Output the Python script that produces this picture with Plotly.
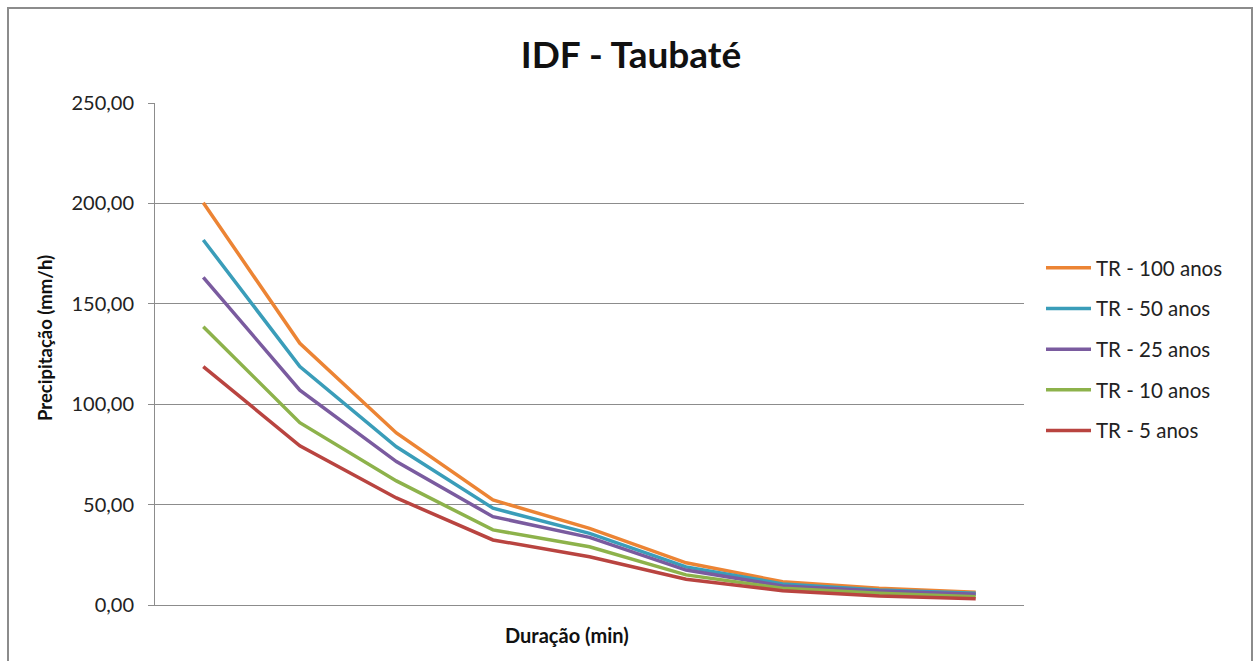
import plotly.graph_objects as go

categories = ["5", "10", "15", "30", "60", "120", "360", "720", "1440"]
tr100 = [200.3, 130.3, 85.7, 52.3, 38.2, 21.0, 11.6, 8.3, 6.3]
tr50 = [181.8, 118.7, 78.8, 48.2, 35.7, 19.0, 10.5, 7.5, 5.8]
tr25 = [163.2, 107.0, 71.4, 44.0, 33.7, 17.4, 9.5, 7.0, 5.3]
tr10 = [138.6, 90.8, 61.8, 37.4, 29.0, 15.0, 8.3, 5.8, 4.1]
tr5 = [118.7, 79.3, 53.3, 32.4, 24.0, 12.8, 7.1, 4.5, 3.1]
series_names = ["TR - 100 anos", "TR - 50 anos", "TR - 25 anos", "TR - 10 anos", "TR - 5 anos"]
colors = ["#EC8434", "#3A9DB9", "#7A5B9F", "#8DB24B", "#B94440"]
y_ticks = [0, 50, 100, 150, 200, 250]

FONT = "Lato"
fig = go.Figure()
for i, (name, vals, col) in enumerate(zip(series_names, [tr100, tr50, tr25, tr10, tr5], colors)):
    fig.add_trace(go.Scatter(x=categories, y=vals, name=name, mode="lines",
                             line=dict(color=col, width=3.5), legendgroup=f"g{i}"))

L, R, T, B = 155, 1024, 103, 605
W, H = 1259, 661
pw, ph = R - L, B - T

def px(x):
    return (x - L) / pw

def py(y):
    return (B - y) / ph

fig.update_layout(
    width=W, height=H,
    margin=dict(l=L, r=W - R, t=T, b=H - B, autoexpand=False),
    paper_bgcolor="white", plot_bgcolor="white",
    separators=",.",
    font=dict(family=FONT, color="#222222"),
    title=dict(text="<b>IDF - Taubaté</b>", x=631 / W, xanchor="center",
               y=1 - 55 / H, yanchor="middle", font=dict(size=37, color="#111111")),
    xaxis=dict(type="category", showticklabels=False, showgrid=False, showline=True,
               linecolor="#8c8c8c", linewidth=1, ticks="",
               range=[-0.5, len(categories) - 0.5]),
    yaxis=dict(range=[0, 250], tickvals=y_ticks, tickformat=".2f", showgrid=True,
               gridcolor="#8c8c8c", gridwidth=1, showline=True, linecolor="#8c8c8c",
               ticks="outside", ticklen=6, tickcolor="#8c8c8c", ticklabelstandoff=10,
               tickfont=dict(size=20, color="#222222"), zeroline=False),
    legend=dict(x=px(1041), xanchor="left", y=py(248), yanchor="top",
                font=dict(size=20.5, color="#222222"), tracegroupgap=11,
                bgcolor="rgba(0,0,0,0)", itemwidth=45),
    annotations=[
        dict(text="<b>Duração (min)</b>", xref="paper", yref="paper", x=px(567), y=py(635),
             xanchor="center", yanchor="middle", showarrow=False,
             font=dict(size=20, color="#111111")),
        dict(text="<b>Precipitação (mm/h)</b>", xref="paper", yref="paper", x=px(45), y=py(338),
             xanchor="center", yanchor="middle", showarrow=False, textangle=-90,
             font=dict(size=18.5, color="#111111")),
    ],
    shapes=[dict(type="rect", xref="paper", yref="paper",
                 x0=px(8), x1=px(1252), y0=py(680), y1=py(8),
                 line=dict(color="#8c8c8c", width=2), fillcolor="rgba(0,0,0,0)", layer="below")],
)

fig.write_html("out.html")
